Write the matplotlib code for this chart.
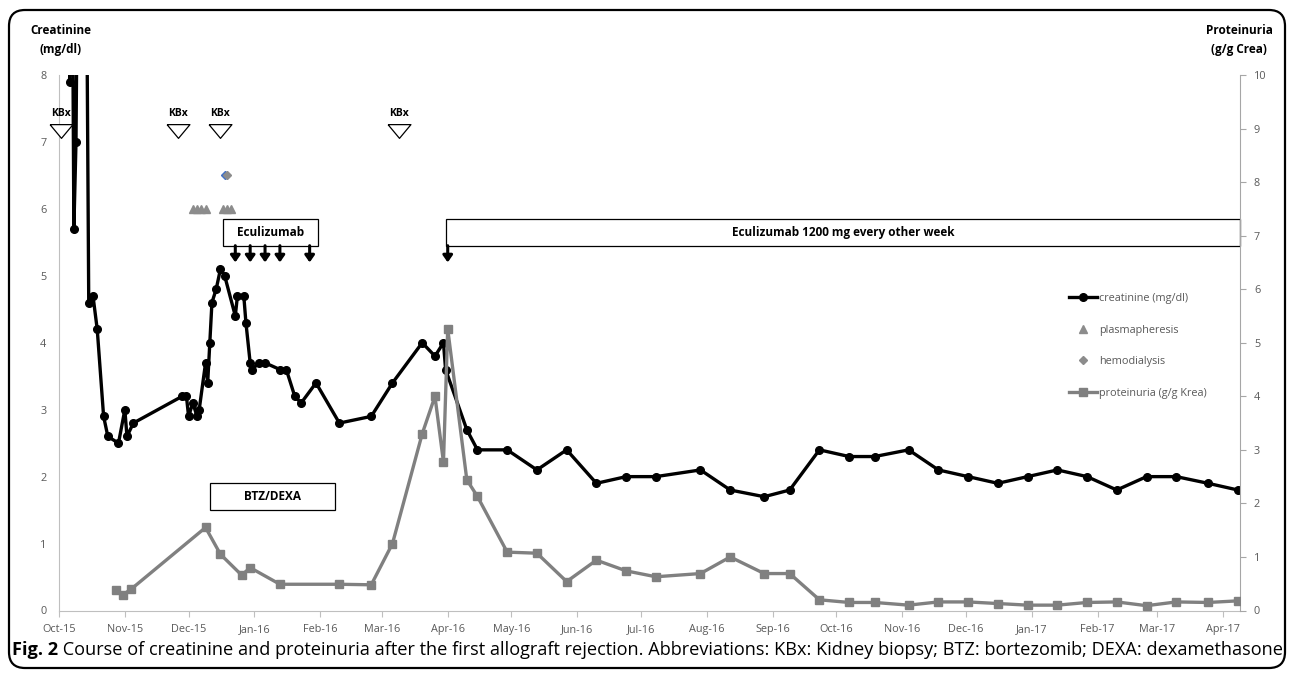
import matplotlib
matplotlib.use("Agg")
import matplotlib.pyplot as plt
import matplotlib.dates as mdates
from matplotlib.lines import Line2D
from matplotlib.patches import Rectangle, FancyBboxPatch
from matplotlib.transforms import IdentityTransform
import pandas as pd

plt.rcParams['font.family'] = ['Open Sans', 'DejaVu Sans']

# creatinine (mg/dl), left axis; values above 8 run off the top
crea_dates = ['2015-10-06', '2015-10-07', '2015-10-08', '2015-10-09', '2015-10-10',
              '2015-10-14', '2015-10-15', '2015-10-17', '2015-10-19', '2015-10-22',
              '2015-10-24', '2015-10-29', '2015-11-01', '2015-11-02', '2015-11-05',
              '2015-11-28', '2015-11-30', '2015-12-01', '2015-12-03', '2015-12-05',
              '2015-12-06', '2015-12-09', '2015-12-10', '2015-12-11', '2015-12-12',
              '2015-12-14', '2015-12-16', '2015-12-18', '2015-12-23', '2015-12-24',
              '2015-12-27', '2015-12-28', '2015-12-30', '2015-12-31', '2016-01-03',
              '2016-01-06', '2016-01-13', '2016-01-16', '2016-01-20', '2016-01-23',
              '2016-01-30', '2016-02-10', '2016-02-25', '2016-03-06', '2016-03-20',
              '2016-03-26', '2016-03-30', '2016-03-31', '2016-04-10', '2016-04-15',
              '2016-04-29', '2016-05-13', '2016-05-27', '2016-06-10', '2016-06-24',
              '2016-07-08', '2016-07-29', '2016-08-12', '2016-08-28', '2016-09-09',
              '2016-09-23', '2016-10-07', '2016-10-19', '2016-11-04', '2016-11-18',
              '2016-12-02', '2016-12-16', '2016-12-30', '2017-01-13', '2017-01-27',
              '2017-02-10', '2017-02-24', '2017-03-10', '2017-03-25', '2017-04-08']
crea_vals = [7.9, 11.5, 5.7, 7.0, 11.0,
             9.5, 4.6, 4.7, 4.2, 2.9,
             2.6, 2.5, 3.0, 2.6, 2.8,
             3.2, 3.2, 2.9, 3.1, 2.9,
             3.0, 3.7, 3.4, 4.0, 4.6,
             4.8, 5.1, 5.0, 4.4, 4.7,
             4.7, 4.3, 3.7, 3.6, 3.7,
             3.7, 3.6, 3.6, 3.2, 3.1,
             3.4, 2.8, 2.9, 3.4, 4.0,
             3.8, 4.0, 3.6, 2.7, 2.4,
             2.4, 2.1, 2.4, 1.9, 2.0,
             2.0, 2.1, 1.8, 1.7, 1.8,
             2.4, 2.3, 2.3, 2.4, 2.1,
             2.0, 1.9, 2.0, 2.1, 2.0,
             1.8, 2.0, 2.0, 1.9, 1.8]

# proteinuria (g/g crea), right axis
prot_dates = ['2015-10-28', '2015-10-31', '2015-11-04', '2015-12-09', '2015-12-16',
              '2015-12-26', '2015-12-30', '2016-01-13', '2016-02-10', '2016-02-25',
              '2016-03-06', '2016-03-20', '2016-03-26', '2016-03-30', '2016-04-01',
              '2016-04-10', '2016-04-15', '2016-04-29', '2016-05-13', '2016-05-27',
              '2016-06-10', '2016-06-24', '2016-07-08', '2016-07-29', '2016-08-12',
              '2016-08-28', '2016-09-09', '2016-09-23', '2016-10-07', '2016-10-19',
              '2016-11-04', '2016-11-18', '2016-12-02', '2016-12-16', '2016-12-30',
              '2017-01-13', '2017-01-27', '2017-02-10', '2017-02-24', '2017-03-10',
              '2017-03-25', '2017-04-08']
prot_vals = [0.38, 0.29, 0.40, 1.55, 1.05,
             0.66, 0.80, 0.49, 0.49, 0.48,
             1.25, 3.30, 4.00, 2.77, 5.26,
             2.44, 2.13, 1.09, 1.07, 0.54,
             0.94, 0.74, 0.63, 0.69, 1.00,
             0.69, 0.69, 0.20, 0.15, 0.15,
             0.10, 0.16, 0.16, 0.13, 0.10,
             0.10, 0.15, 0.16, 0.09, 0.16,
             0.15, 0.18]

plasma_dates = ['2015-12-03', '2015-12-05', '2015-12-07', '2015-12-09',
                '2015-12-17', '2015-12-19', '2015-12-21']
plasma_level = 6.0
dialysis_dates = ['2015-12-18', '2015-12-19']
dialysis_level = 6.5
biopsy_dates = ['2015-10-02', '2015-11-26', '2015-12-16', '2016-03-09']
biopsy_level = 7.17
ecu_doses = ['2015-12-23', '2015-12-30', '2016-01-06', '2016-01-13', '2016-01-27',
             '2016-04-01']

x_start, x_end = pd.Timestamp('2015-10-01'), pd.Timestamp('2017-04-09')
W, H = 1292, 674

fig = plt.figure(figsize=(W / 100, H / 100), dpi=100)
ax = fig.add_axes([59 / W, 63.5 / H, (1240 - 59) / W, 535.5 / H])
ax2 = ax.twinx()

tick_gray = '#595959'
line_gray = '#808080'

ax.plot(pd.to_datetime(crea_dates), crea_vals, color='black', lw=2.4,
        marker='o', ms=5.5, zorder=3)
ax2.plot(pd.to_datetime(prot_dates), prot_vals, color=line_gray, lw=2.4,
         marker='s', ms=5.5, zorder=3)

ax.plot(pd.to_datetime(plasma_dates), [plasma_level] * len(plasma_dates),
        ls='none', marker='^', ms=6, color='#8c8c8c', mec='#8c8c8c')
ax.plot(pd.to_datetime(dialysis_dates[:1]), [dialysis_level], ls='none',
        marker='D', ms=4.5, color='#4472C4')
ax.plot(pd.to_datetime(dialysis_dates[1:]), [dialysis_level], ls='none',
        marker='D', ms=4.5, color='#8c8c8c')

# kidney biopsies: open down-pointing triangles with a label above
kbx_marker = [(-1, 0.6), (1, 0.6), (0, -0.6), (-1, 0.6)]
ax.plot(pd.to_datetime(biopsy_dates), [biopsy_level] * len(biopsy_dates),
        ls='none', marker=kbx_marker, ms=16.5, mfc='white', mec='black', mew=0.9,
        clip_on=False, zorder=4)
for d in biopsy_dates:
    ax.text(pd.Timestamp(d), biopsy_level + 0.26, 'KBx', ha='center', va='center',
            fontsize=7.5, weight='bold')

# treatment boxes
def box(x0, x1, y0, y1, label):
    x0n, x1n = mdates.date2num(pd.Timestamp(x0)), mdates.date2num(pd.Timestamp(x1))
    ax.add_patch(Rectangle((x0n, y0), x1n - x0n, y1 - y0, fc='white', ec='black',
                           lw=0.9, zorder=5, clip_on=False))
    ax.text((x0n + x1n) / 2, (y0 + y1) / 2, label, ha='center', va='center',
            fontsize=8.5, weight='bold', zorder=6)

box('2015-12-17', '2016-01-31', 5.45, 5.85, 'Eculizumab')
box('2016-03-31', x_end, 5.45, 5.85, 'Eculizumab 1200 mg every other week')
box('2015-12-11', '2016-02-08', 1.5, 1.9, 'BTZ/DEXA')

for d in ecu_doses:
    ax.annotate('', xy=(pd.Timestamp(d), 5.2), xytext=(pd.Timestamp(d), 5.45),
                arrowprops=dict(arrowstyle='-|>,head_length=0.5,head_width=0.35',
                                lw=2.2, color='black', shrinkA=0, shrinkB=0,
                                mutation_scale=8), zorder=5)

# axes
ax.set_xlim(x_start, x_end)
ax.set_ylim(0, 8)
ax.set_yticks(range(9))
ax2.set_ylim(0, 10)
ax2.set_yticks(range(11))
ax.xaxis.set_major_locator(mdates.MonthLocator())
ax.xaxis.set_major_formatter(mdates.DateFormatter('%b-%y'))

ax.tick_params(axis='x', length=4, color='#BFBFBF', labelcolor=tick_gray,
               labelsize=7.8, pad=6)
ax.tick_params(axis='y', length=0, labelcolor=tick_gray, labelsize=7.8, pad=9)
ax2.tick_params(axis='y', length=4, color='#A6A6A6', labelcolor=tick_gray,
                labelsize=7.8, pad=6)

for s in ['top', 'right']:
    ax.spines[s].set_visible(False)
for s in ['top', 'left', 'bottom']:
    ax2.spines[s].set_visible(False)
ax.spines['left'].set_color('#BFBFBF')
ax.spines['bottom'].set_color('#BFBFBF')
ax2.spines['right'].set_color('#A6A6A6')

fig.text(61 / W, 1 - 31 / H, 'Creatinine', ha='center', va='center',
         fontsize=8.5, weight='bold')
fig.text(61 / W, 1 - 50 / H, '(mg/dl)', ha='center', va='center',
         fontsize=8.5, weight='bold')
fig.text(1239 / W, 1 - 31 / H, 'Proteinuria', ha='center', va='center',
         fontsize=8.5, weight='bold')
fig.text(1239 / W, 1 - 50 / H, '(g/g Crea)', ha='center', va='center',
         fontsize=8.5, weight='bold')

handles = [
    Line2D([], [], color='black', lw=2.4, marker='o', ms=5.5),
    Line2D([], [], ls='none', marker='^', ms=6, color='#8c8c8c'),
    Line2D([], [], ls='none', marker='D', ms=4.5, color='#8c8c8c'),
    Line2D([], [], color=line_gray, lw=2.4, marker='s', ms=5.5),
]
labels = ['creatinine (mg/dl)', 'plasmapheresis', 'hemodialysis',
          'proteinuria (g/g Krea)']
leg = fig.legend(handles, labels, loc='upper left', bbox_to_anchor=(1069 / W, 1 - 293 / H),
                 frameon=False, fontsize=7.8, handlelength=2.6, handletextpad=0.2,
                 labelspacing=1.9, borderpad=0, borderaxespad=0)
for t in leg.get_texts():
    t.set_color(tick_gray)

# outer rounded frame
frame = FancyBboxPatch((9, 6), 1276, 658, boxstyle='round,pad=0,rounding_size=16',
                       transform=IdentityTransform(), fill=False, lw=1.6, ec='black')
fig.patches.append(frame)

# caption, sized to run across the frame
cap_y = 24 / H
head = fig.text(12 / W, cap_y, 'Fig. 2', weight='bold', fontsize=10, va='center')
body_txt = (' Course of creatinine and proteinuria after the first allograft rejection. '
            'Abbreviations: KBx: Kidney biopsy; BTZ: bortezomib; DEXA: dexamethasone')
body = fig.text(0, cap_y, body_txt, fontsize=10, va='center')
r = fig.canvas.get_renderer()
w = head.get_window_extent(r).width + body.get_window_extent(r).width
size = 10 * (1283 - 12) / w
head.set_fontsize(size)
body.set_fontsize(size)
hw = head.get_window_extent(r).width
body.set_x((12 + hw) / W)

fig.savefig('out.png', dpi=100)
